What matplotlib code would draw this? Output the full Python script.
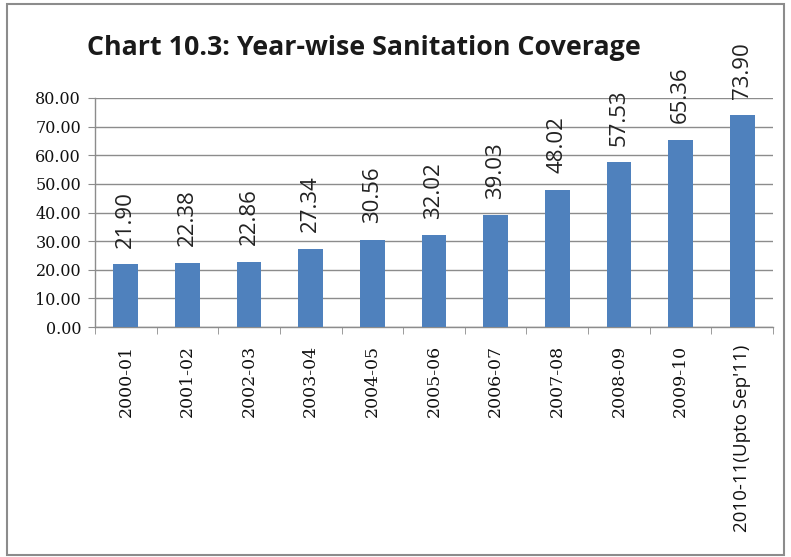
import matplotlib
matplotlib.use("Agg")
import matplotlib.pyplot as plt
from matplotlib.patches import Rectangle
import numpy as np

categories = ["2000-01", "2001-02", "2002-03", "2003-04", "2004-05", "2005-06",
              "2006-07", "2007-08", "2008-09", "2009-10", "2010-11(Upto Sep'11)"]
values = [21.90, 22.38, 22.86, 27.34, 30.56, 32.02, 39.03, 48.02, 57.53, 65.36, 73.90]
yticks = [0, 10, 20, 30, 40, 50, 60, 70, 80]
title = "Chart 10.3: Year-wise Sanitation Coverage"

W, H = 791, 557
fig = plt.figure(figsize=(W / 100, H / 100), dpi=100)
fig.patch.set_facecolor("white")
fig.patches.append(Rectangle((7 / W, 2 / H), 777 / W, 551 / H, transform=fig.transFigure,
                             fill=False, edgecolor="#8c8c8c", linewidth=1.5))

ax = fig.add_axes([95 / W, 1 - 327 / H, (773 - 95) / W, (327 - 98) / H])
x = np.arange(len(categories))
bar_color = "#4f81bd"
bars = ax.bar(x, values, width=0.4, color=bar_color, zorder=3)
ax.set_xlim(-0.5, len(categories) - 0.5)
ax.set_ylim(0, 80)
ax.set_yticks(yticks)
ax.set_yticklabels([f"{v:.2f}" for v in yticks], family="DejaVu Serif", fontsize=11.5,
                   color="#111111")
ax.yaxis.grid(True, color="#8c8c8c", linewidth=1, zorder=0)
ax.tick_params(axis="y", length=5, color="#8c8c8c", pad=5)

ax.set_xticks(x)
ax.set_xticks(np.arange(-0.5, len(categories), 1), minor=True)
ax.tick_params(axis="x", which="major", length=0, pad=13)
ax.tick_params(axis="x", which="minor", length=5, color="#8c8c8c")
ax.set_xticklabels(categories, rotation=90, fontsize=12.5, color="#111111")
for i, lab in enumerate(ax.get_xticklabels()):
    if i < len(categories) - 1:
        lab.set_family("DejaVu Serif")
    else:
        lab.set_family("Open Sans")
        lab.set_fontsize(13.5)

for s in ["top", "right"]:
    ax.spines[s].set_visible(False)
for s in ["left", "bottom"]:
    ax.spines[s].set_color("#8c8c8c")
    ax.spines[s].set_linewidth(1)

for xi, v in zip(x, values):
    ax.annotate(f"{v:.2f}", (xi, v), xytext=(0, 12), textcoords="offset points",
                rotation=90, ha="center", va="bottom", fontsize=16,
                family="Open Sans", color="#222222")

fig.text(364 / W, 1 - 48 / H, title, ha="center", va="center", fontsize=19.3,
         fontweight="bold", family="Open Sans", color="#1a1a1a")

fig.savefig("out.png", dpi=100)
